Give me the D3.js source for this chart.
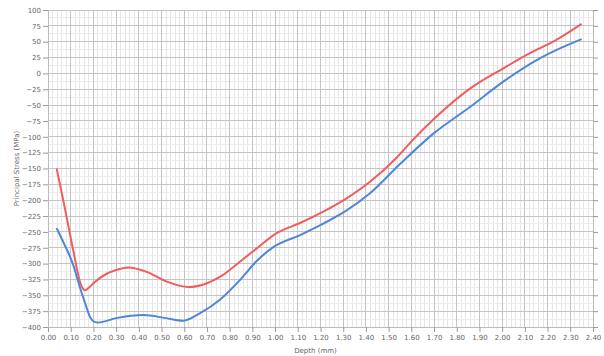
<!DOCTYPE html>
<html>
<head>
<meta charset="utf-8">
<script src="https://cdn.jsdelivr.net/npm/d3@7/dist/d3.min.js"></script>
<style>
  html, body { margin: 0; padding: 0; background: #fff; }
  svg { display: block; }
  text { font-family: "DejaVu Sans", sans-serif; }
</style>
</head>
<body>
<svg id="chart" width="604" height="356"></svg>
<script>
// ---- data ----
const xTicks = [0.00,0.10,0.20,0.30,0.40,0.50,0.60,0.70,0.80,0.90,1.00,1.10,1.20,1.30,1.40,1.50,1.60,1.70,1.80,1.90,2.00,2.10,2.20,2.30,2.40];
const yTicks = [100,75,50,25,0,-25,-50,-75,-100,-125,-150,-175,-200,-225,-250,-275,-300,-325,-350,-375,-400];

const redDepth  = [0.038,0.07,0.11,0.145,0.163,0.18,0.2,0.258,0.30,0.354,0.435,0.52,0.618,0.70,0.757,0.845,0.919,1.007,1.11,1.212,1.315,1.418,1.535,1.609,1.711,1.858,2.005,2.122,2.225,2.35];
const redStress = [-150,-205,-277,-333,-342,-338,-331,-316,-310,-306,-313,-328,-337,-331,-321,-297,-276,-252,-236,-218,-197,-171,-133,-104,-68,-24,8,32,50,78];

const blueDepth  = [0.038,0.07,0.111,0.14,0.163,0.185,0.205,0.221,0.30,0.42,0.52,0.596,0.67,0.757,0.845,0.919,0.992,1.11,1.212,1.315,1.418,1.55,1.697,1.858,2.005,2.152,2.24,2.35];
const blueStress = [-244,-268,-302,-337,-362,-384,-392,-393,-386,-381,-386,-390,-378,-357,-326,-296,-274,-255,-237,-216,-189,-143,-95,-53,-13,21,37,54];

const xTitle = "Depth (mm)";
const yTitle = "Principal Stress (MPa)";

// ---- layout ----
const svg = d3.select("#chart");
const L = 48, R = 593, T = 10, B = 327;
const x = d3.scaleLinear().domain([0, 2.4]).range([L, R]);
const y = d3.scaleLinear().domain([-400, 100]).range([B, T]);

// minor grid
const g = svg.append("g");
g.selectAll("line.vmin").data(d3.range(0, 2.4001, 0.02)).join("line")
  .attr("x1", d => x(d)).attr("x2", d => x(d)).attr("y1", T).attr("y2", B)
  .attr("stroke", "#e6e6e6").attr("stroke-width", 1).attr("shape-rendering", "crispEdges");
g.selectAll("line.hmin").data(d3.range(-400, 100.001, 12.5)).join("line")
  .attr("x1", L).attr("x2", R).attr("y1", d => y(d)).attr("y2", d => y(d))
  .attr("stroke", "#ececec").attr("stroke-width", 1).attr("shape-rendering", "crispEdges");

// major grid
g.selectAll("line.vmaj").data(xTicks).join("line")
  .attr("x1", d => x(d)).attr("x2", d => x(d)).attr("y1", T).attr("y2", B)
  .attr("stroke", "#c4c4c4").attr("stroke-width", 1).attr("shape-rendering", "crispEdges");
g.selectAll("line.hmaj").data(yTicks).join("line")
  .attr("x1", L).attr("x2", R).attr("y1", d => y(d)).attr("y2", d => y(d))
  .attr("stroke", "#c4c4c4").attr("stroke-width", 1).attr("shape-rendering", "crispEdges");

// axes
const xAxis = d3.axisBottom(x).tickValues(xTicks).tickFormat(d3.format(".2f")).tickSize(5).tickPadding(3);
const ax = svg.append("g").attr("transform", `translate(0,${B})`).call(xAxis);
const yAxis = d3.axisLeft(y).tickValues(yTicks).tickFormat(d3.format("d")).tickSize(5).tickPadding(2);
const ay = svg.append("g").attr("transform", `translate(${L},0)`).call(yAxis);
const yAxisR = d3.axisRight(y).tickValues(yTicks).tickFormat("").tickSize(5);
const ayr = svg.append("g").attr("transform", `translate(${R},0)`).call(yAxisR);
[ax, ay, ayr].forEach(a => {
  a.select(".domain").attr("stroke", "#bbb");
  a.selectAll(".tick line").attr("stroke", "#999");
  a.selectAll(".tick text").attr("fill", "#666").style("font-size", "7px").style("font-family", "DejaVu Sans, sans-serif");
});

// titles
svg.append("text").attr("x", (L + R) / 2 - 5).attr("y", 353).attr("text-anchor", "middle")
  .attr("fill", "#666").style("font-size", "7px").text(xTitle);
svg.append("text").attr("transform", `translate(19,${(T + B) / 2}) rotate(-90)`).attr("text-anchor", "middle")
  .attr("fill", "#666").style("font-size", "7px").text(yTitle);

// lines
const line = d3.line().x(d => x(d[0])).y(d => y(d[1])).curve(d3.curveMonotoneX);
svg.append("path").datum(d3.zip(redDepth, redStress)).attr("d", line)
  .attr("fill", "none").attr("stroke", "#ef5d5d").attr("stroke-width", 2);
svg.append("path").datum(d3.zip(blueDepth, blueStress)).attr("d", line)
  .attr("fill", "none").attr("stroke", "#4f86d8").attr("stroke-width", 2);
</script>
</body>
</html>
